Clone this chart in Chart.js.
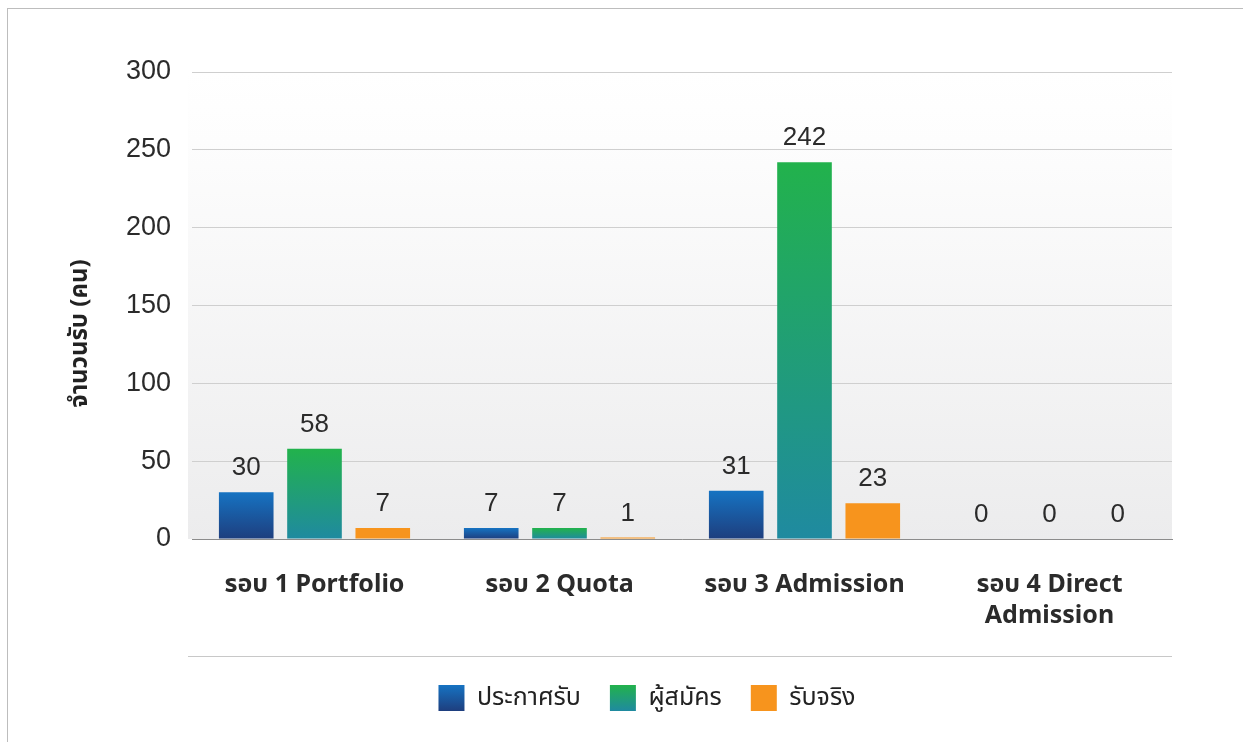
<!DOCTYPE html>
<html>
<head>
<meta charset="utf-8">
<script src="https://cdn.jsdelivr.net/npm/chart.js@4/dist/chart.umd.min.js"></script>
<style>
    html, body { margin: 0; padding: 0; background: #fff; }
    #wrap { position: relative; width: 1243px; height: 742px; overflow: hidden; }
    #frame { position: absolute; left: 7px; top: 8px; width: 1300px; height: 800px; border: 1px solid #bdbdbd; box-sizing: border-box; }
    canvas { position: absolute; left: 0; top: 0; }
</style>
</head>
<body>
<div id="wrap">
    <div id="frame"></div>
    <canvas id="admitChart" width="1243" height="742"></canvas>
</div>
<script>
const rounds = [['รอบ 1 Portfolio'], ['รอบ 2 Quota'], ['รอบ 3 Admission'], ['รอบ 4 Direct', 'Admission']];
const announced = [30, 7, 31, 0];
const applicants = [58, 7, 242, 0];
const admitted = [7, 1, 23, 0];
const yTicks = [0, 50, 100, 150, 200, 250, 300];

const FONT = "'Noto Sans', 'Noto Sans Thai', Inter, sans-serif";
const NUM_FONT = "'Liberation Sans', Arial, sans-serif";

// vertical gradient across each bar
function barGradient(top, bottom) {
    return function(context) {
        const chart = context.chart;
        if (!chart.chartArea || context.dataIndex === undefined) return bottom;
        const y = chart.scales.y;
        const v = context.dataset.data[context.dataIndex];
        const y0 = y.getPixelForValue(v);
        const y1 = y.getPixelForValue(0);
        if (y1 - y0 < 1) return bottom;
        const g = chart.ctx.createLinearGradient(0, y0, 0, y1);
        g.addColorStop(0, top);
        g.addColorStop(1, bottom);
        return g;
    };
}

const colorStops = [
    ['#1673c2', '#1e3e7e'],
    ['#22b24c', '#1f8aa0'],
    ['#f7941d', '#f7941d']
];

const plotBackground = {
    id: 'plotBackground',
    afterLayout(chart) {
        // legend sits a bit right of the canvas centre
        if (chart.legend) chart.legend.left += 56;
    },
    beforeDraw(chart) {
        const {ctx, chartArea: a} = chart;
        const g = ctx.createLinearGradient(0, a.top, 0, a.bottom);
        g.addColorStop(0, '#ffffff');
        g.addColorStop(0.15, '#fdfdfd');
        g.addColorStop(1, '#ececed');
        ctx.save();
        ctx.fillStyle = g;
        ctx.fillRect(a.left - 4, a.top, a.right - a.left + 4, a.bottom - a.top);
        ctx.restore();
        // gradient legend boxes
        const legend = chart.legend;
        if (legend && legend.legendHitBoxes) {
            legend.legendItems.forEach((item, i) => {
                const hb = legend.legendHitBoxes[i];
                if (!hb) return;
                const lg = ctx.createLinearGradient(0, hb.top, 0, hb.top + hb.height);
                lg.addColorStop(0, colorStops[i][0]);
                lg.addColorStop(1, colorStops[i][1]);
                item.fillStyle = lg;
            });
        }
    }
};

const valueLabels = {
    id: 'valueLabels',
    afterDatasetsDraw(chart) {
        const ctx = chart.ctx;
        ctx.save();
        ctx.font = '26px ' + NUM_FONT;
        ctx.fillStyle = '#2b2b2b';
        ctx.textAlign = 'center';
        ctx.textBaseline = 'bottom';
        chart.data.datasets.forEach((ds, di) => {
            chart.getDatasetMeta(di).data.forEach((bar, i) => {
                ctx.fillText(String(ds.data[i]), bar.x, bar.y - 11);
            });
        });
        ctx.restore();
    }
};

// line under the category labels
const bottomRule = {
    id: 'bottomRule',
    afterDraw(chart) {
        const {ctx, chartArea: a, scales} = chart;
        const yb = Math.round(scales.x.bottom) + 0.5;
        ctx.save();
        ctx.strokeStyle = '#c8c8c8';
        ctx.lineWidth = 1;
        ctx.beginPath();
        ctx.moveTo(a.left - 4, yb);
        ctx.lineTo(a.right, yb);
        ctx.stroke();
        ctx.restore();
    }
};

const labels = ['ประกาศรับ', 'ผู้สมัคร', 'รับจริง'];
const series = [announced, applicants, admitted];

new Chart(document.getElementById('admitChart'), {
    type: 'bar',
    data: {
        labels: rounds,
        datasets: series.map((d, i) => ({
            label: labels[i],
            data: d,
            backgroundColor: barGradient(colorStops[i][0], colorStops[i][1]),
            borderWidth: 0,
            categoryPercentage: 0.836,
            barPercentage: 0.80
        }))
    },
    options: {
        responsive: false,
        animation: false,
        layout: { padding: { left: 66, right: 71, top: 72, bottom: 21 } },
        plugins: {
            tooltip: { enabled: false },
            legend: {
                position: 'bottom',
                labels: {
                    boxWidth: 26,
                    boxHeight: 26,
                    padding: 29,
                    color: '#222',
                    font: { family: FONT, size: 25 }
                }
            }
        },
        scales: {
            x: {
                grid: { display: false, drawTicks: false },
                border: { color: '#8c8c8c', width: 1 },
                ticks: {
                    color: '#2b2b2b',
                    padding: 30,
                    maxRotation: 0,
                    font: { family: FONT, size: 25, weight: 'bold', lineHeight: 1.24 }
                },
                afterFit(scale) { scale.height = 117; }
            },
            y: {
                min: 0,
                max: 300,
                afterBuildTicks(scale) { scale.ticks = yTicks.map(v => ({ value: v })); },
                grid: { color: '#cfcfcf', drawTicks: false },
                border: { display: false },
                ticks: {
                    color: '#2b2b2b',
                    padding: 21,
                    font: { family: NUM_FONT, size: 27 }
                },
                title: {
                    display: true,
                    // trailing spaces push the visible text down the axis
                    text: 'จำนวนรับ (คน)' + '\u00a0'.repeat(9),
                    color: '#222',
                    padding: { top: 0, bottom: 0 },
                    font: { family: FONT, size: 24, weight: 'bold' }
                },
                afterFit(scale) { scale.width = 192 - 66; }
            }
        }
    },
    plugins: [plotBackground, valueLabels, bottomRule]
});
</script>
</body>
</html>
